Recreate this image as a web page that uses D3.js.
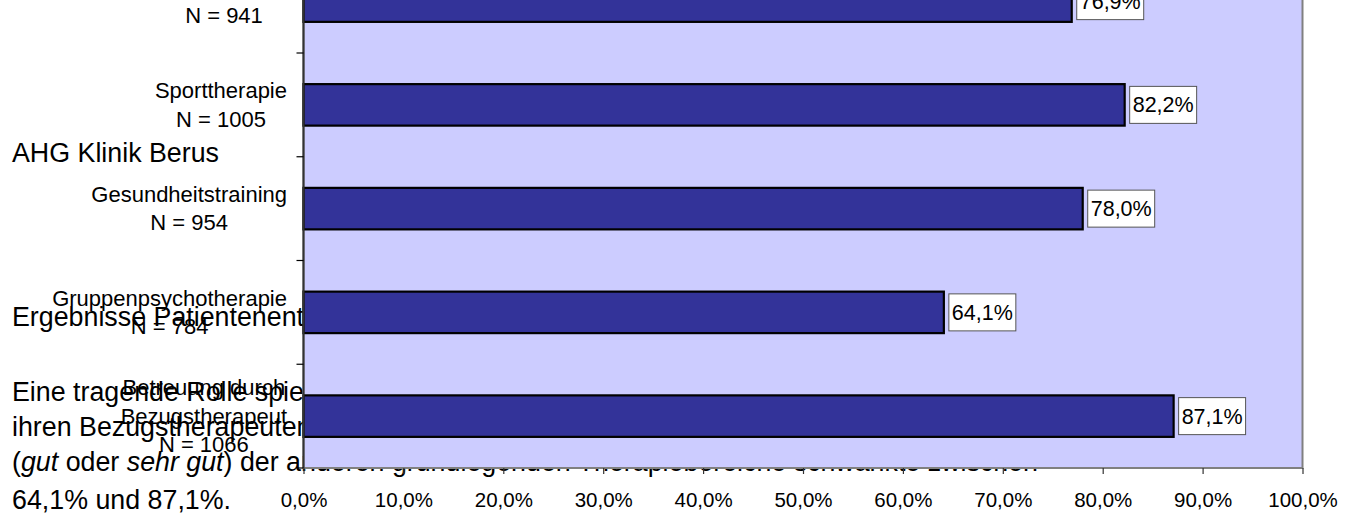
<!DOCTYPE html>
<html>
<head>
<meta charset="utf-8">
<script src="https://cdn.jsdelivr.net/npm/d3@7"></script>
<style>
  body { margin: 0; background: #fff; }
  svg { display: block; font-family: "Liberation Sans", Arial, sans-serif; }
</style>
</head>
<body>
<div id="chart"></div>
<script>
// Data
const categories = ["Ergotherapie", "Sporttherapie", "Gesundheitstraining", "Gruppenpsychotherapie", "Betreuung durch Bezugstherapeut"];
const labelLines = [["Ergotherapie"], ["Sporttherapie"], ["Gesundheitstraining"], ["Gruppenpsychotherapie"], ["Betreuung durch", "Bezugstherapeut"]];
const counts = [941, 1005, 954, 784, 1066];
const values = [76.9, 82.2, 78.0, 64.1, 87.1];
const xTicks = [0, 10, 20, 30, 40, 50, 60, 70, 80, 90, 100];

// Text of the page that lies behind the chart
const pageLines = [
  {y: 162, parts: [["AHG Klinik Berus", false]]},
  {y: 326, parts: [["Ergebnisse Patientenentlassbefragung", false]]},
  {y: 401, parts: [["Eine tragende Rolle spielte die Betreuung durch", false]]},
  {y: 436, parts: [["ihren Bezugstherapeuten. Die Zufriedenheit", false]]},
  {y: 471, parts: [["(", false], ["gut", true], [" oder ", false], ["sehr gut", true], [") der anderen grundlegenden Therapiebereiche schwankte zwischen", false]]},
  {y: 509, parts: [["64,1% und 87,1%.", false]]}
];

const width = 1352, height = 523;
const plot = {left: 303.5, right: 1302.5, bottom: 468, step: 103.75};
plot.top = plot.bottom - categories.length * plot.step;

const de = d3.formatLocale({decimal: ",", thousands: ".", grouping: [3], currency: ["", " €"]});
const pct = d => de.format(".1f")(d) + "%";

const svg = d3.select("#chart").append("svg")
  .attr("width", width)
  .attr("height", height);

// Page text (drawn first, the chart covers it)
const page = svg.append("g").attr("class", "page-text")
  .style("font-size", "26.8px")
  .attr("fill", "#000");

page.selectAll("text")
  .data(pageLines)
  .enter().append("text")
  .attr("x", 12)
  .attr("y", d => d.y)
  .each(function(d){
    d3.select(this).selectAll("tspan")
      .data(d.parts)
      .enter().append("tspan")
      .style("font-style", p => p[1] ? "italic" : "normal")
      .text(p => p[0]);
  });

// Scales
const x = d3.scaleLinear().domain([0, 100]).range([plot.left, plot.right]);
const y = d3.scaleBand().domain(categories).range([plot.top, plot.bottom]).padding(0);
const barH = y.bandwidth() * 0.4;

// Plot area
svg.append("rect")
  .attr("x", plot.left)
  .attr("y", plot.top)
  .attr("width", plot.right - plot.left)
  .attr("height", plot.bottom - plot.top)
  .attr("fill", "#ccccff")
  .attr("stroke", "#808080")
  .attr("stroke-width", 2);

// Bars
svg.append("g").selectAll("rect")
  .data(values)
  .enter().append("rect")
  .attr("x", x(0))
  .attr("y", (d, i) => y(categories[i]) + (y.bandwidth() - barH) / 2)
  .attr("width", d => x(d) - x(0))
  .attr("height", barH)
  .attr("fill", "#333399")
  .attr("stroke", "#000")
  .attr("stroke-width", 2.2);

// Value labels in white boxes
const vLabels = svg.append("g").selectAll("g")
  .data(values)
  .enter().append("g")
  .attr("transform", (d, i) => "translate(" + (x(d) + 5) + "," + (y(categories[i]) + y.bandwidth() / 2) + ")");

vLabels.append("rect")
  .attr("y", -18.5)
  .attr("height", 37)
  .attr("fill", "#fff")
  .attr("stroke", "#555")
  .attr("stroke-width", 1);

vLabels.append("text")
  .attr("x", 3)
  .attr("y", 7.5)
  .style("font-size", "21.5px")
  .attr("fill", "#000")
  .text(d => pct(d));

vLabels.each(function(){
  const w = d3.select(this).select("text").node().getComputedTextLength();
  d3.select(this).select("rect").attr("width", w + 6);
});

// Left axis line and ticks at band boundaries
svg.append("line")
  .attr("x1", plot.left).attr("x2", plot.left)
  .attr("y1", plot.top).attr("y2", plot.bottom)
  .attr("stroke", "#333")
  .attr("stroke-width", 2);

svg.append("g").selectAll("line")
  .data(categories.slice(1).concat(["__end"]))
  .enter().append("line")
  .attr("x1", plot.left - 7).attr("x2", plot.left)
  .attr("y1", d => d === "__end" ? plot.bottom : y(d))
  .attr("y2", d => d === "__end" ? plot.bottom : y(d))
  .attr("stroke", "#000")
  .attr("stroke-width", 1.2);

// Bottom axis
const xAxis = svg.append("g")
  .attr("transform", "translate(0," + plot.bottom + ")")
  .call(d3.axisBottom(x).tickValues(xTicks).tickSize(6).tickPadding(18).tickFormat(pct));

xAxis.select(".domain").remove();
xAxis.selectAll(".tick line").attr("stroke", "#333").attr("stroke-width", 1.2);
xAxis.selectAll(".tick text")
  .style("font-size", "20.5px")
  .style("font-family", "'Liberation Sans', Arial, sans-serif")
  .attr("fill", "#000");

// Category labels (centred lines, block aligned right)
const catLabels = svg.append("g").selectAll("text")
  .data(categories)
  .enter().append("text")
  .style("font-size", "22px")
  .attr("fill", "#000")
  .attr("text-anchor", "middle");

catLabels.each(function(c, i){
  const lines = labelLines[i].concat(["N = " + counts[i]]);
  const lineH = 28.5;
  const mid = y(c) + y.bandwidth() / 2;
  const first = mid - (lines.length - 1) * lineH / 2 + 7.5;
  const t = d3.select(this);
  t.selectAll("tspan")
    .data(lines)
    .enter().append("tspan")
    .attr("y", (d, j) => first + j * lineH)
    .text(d => d);
  let maxW = 0;
  t.selectAll("tspan").each(function(){ maxW = Math.max(maxW, this.getComputedTextLength()); });
  t.selectAll("tspan").attr("x", 287 - maxW / 2);
});
</script>
</body>
</html>
